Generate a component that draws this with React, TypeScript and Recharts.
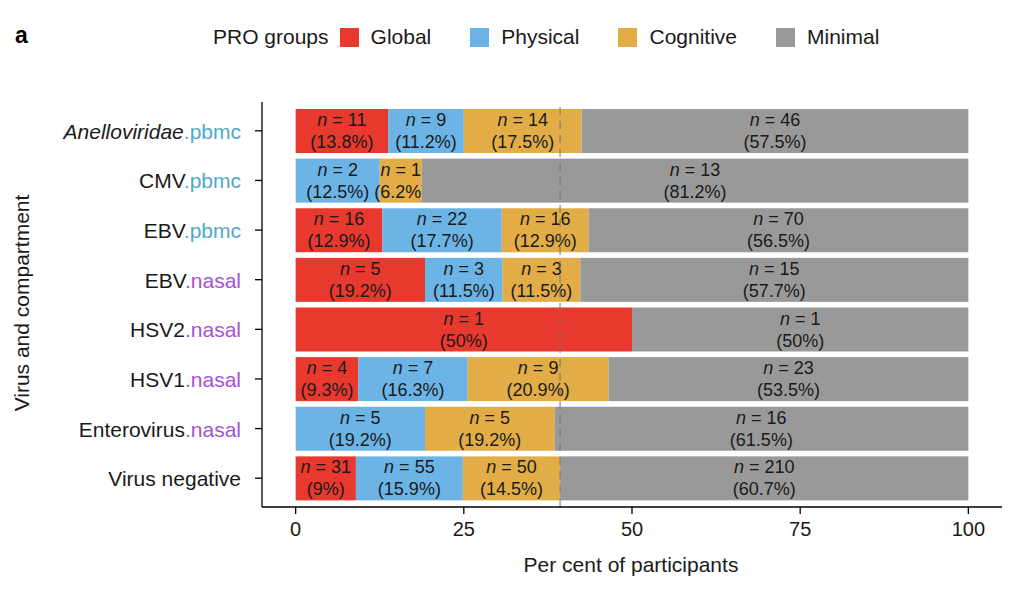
import { Bar, BarChart, ReferenceLine, XAxis, YAxis } from "recharts";

const categories = [
  "Anelloviridae.pbmc",
  "CMV.pbmc",
  "EBV.pbmc",
  "EBV.nasal",
  "HSV2.nasal",
  "HSV1.nasal",
  "Enterovirus.nasal",
  "Virus negative",
];

// participant counts per PRO group
const nGlobal = [11, 0, 16, 5, 1, 4, 0, 31];
const nPhysical = [9, 2, 22, 3, 0, 7, 5, 55];
const nCognitive = [14, 1, 16, 3, 0, 9, 5, 50];
const nMinimal = [46, 13, 70, 15, 1, 23, 16, 210];

// printed percentages
const pctGlobal = [13.8, 0, 12.9, 19.2, 50, 9.3, 0, 9];
const pctPhysical = [11.2, 12.5, 17.7, 11.5, 0, 16.3, 19.2, 15.9];
const pctCognitive = [17.5, 6.2, 12.9, 11.5, 0, 20.9, 19.2, 14.5];
const pctMinimal = [57.5, 81.2, 56.5, 57.7, 50, 53.5, 61.5, 60.7];

const xTicks = [0, 25, 50, 75, 100];

const groups = [
  { key: "global", label: "Global", color: "#e8392f", n: nGlobal, pct: pctGlobal },
  { key: "physical", label: "Physical", color: "#6cb4e6", n: nPhysical, pct: pctPhysical },
  { key: "cognitive", label: "Cognitive", color: "#e2ad47", n: nCognitive, pct: pctCognitive },
  { key: "minimal", label: "Minimal", color: "#999999", n: nMinimal, pct: pctMinimal },
];

const data = categories.map((name, i) => {
  const total = nGlobal[i] + nPhysical[i] + nCognitive[i] + nMinimal[i];
  const row: any = { name };
  groups.forEach((g) => {
    row[g.key] = (g.n[i] / total) * 100;
    row["n_" + g.key] = g.n[i];
    row["pct_" + g.key] = g.pct[i];
  });
  return row;
});

// share of virus-negative participants with any PRO
const neg = data[data.length - 1];
const negThreshold = 100 - neg.minimal;

const FONT = '"Liberation Sans", Arial, Helvetica, sans-serif';
const INK = "#1a1a1a";

function segment(key: string, color: string) {
  return (props: any) => {
    const { x, y, width, height, payload } = props;
    const n = payload["n_" + key];
    if (!n || !width) return <g />;
    const cx = x + width / 2;
    const cy = y + height / 2;
    return (
      <g>
        <rect x={x} y={y} width={width} height={height} fill={color} />
        <text x={cx} y={cy - 11} textAnchor="middle" dominantBaseline="central" fontSize={18} fill={INK} fontFamily={FONT}>
          <tspan fontStyle="italic">n</tspan> = {n}
        </text>
        <text x={cx} y={cy + 11} textAnchor="middle" dominantBaseline="central" fontSize={18} fill={INK} fontFamily={FONT}>
          ({payload["pct_" + key]}%)
        </text>
      </g>
    );
  };
}

function CategoryTick(props: any) {
  const { x, y, payload } = props;
  const value: string = payload.value;
  const dot = value.indexOf(".");
  const virus = dot >= 0 ? value.slice(0, dot) : value;
  const compartment = dot >= 0 ? value.slice(dot) : "";
  const compColor = compartment === ".pbmc" ? "#4eaacb" : "#a651d6";
  return (
    <text x={x - 2} y={y} textAnchor="end" dominantBaseline="central" fontSize={21} fontFamily={FONT} fill={INK}>
      <tspan fontStyle={virus === "Anelloviridae" ? "italic" : "normal"}>{virus}</tspan>
      {compartment && <tspan fill={compColor}>{compartment}</tspan>}
    </text>
  );
}

export default function App() {
  return (
    <div style={{ position: "absolute", left: 0, top: 0, width: 1024, height: 598, background: "#fff", fontFamily: FONT }}>
      <div style={{ position: "absolute", left: 15, top: 22, fontSize: 23, fontWeight: "bold", color: "#000" }}>a</div>
      <div
        style={{
          position: "absolute",
          left: 213,
          top: 24,
          height: 26,
          display: "flex",
          alignItems: "center",
          fontSize: 21,
          color: INK,
          whiteSpace: "nowrap",
        }}
      >
        <span style={{ marginRight: 11 }}>PRO groups</span>
        {groups.map((g) => (
          <span key={g.key} style={{ display: "flex", alignItems: "center", marginRight: 39 }}>
            <span style={{ width: 19, height: 19, background: g.color, marginRight: 12, display: "inline-block" }} />
            {g.label}
          </span>
        ))}
      </div>
      <BarChart
        width={1024}
        height={598}
        data={data}
        layout="vertical"
        margin={{ top: 102, right: 22, bottom: 51, left: 62 }}
        style={{ position: "absolute", left: 0, top: 0 }}
      >
        <XAxis
          type="number"
          domain={[-5, 105]}
          ticks={xTicks}
          allowDataOverflow
          height={40}
          tickSize={7}
          tickMargin={8}
          stroke="#000"
          strokeWidth={1.3}
          tick={{ fill: INK, fontSize: 20, fontFamily: FONT }}
        />
        <YAxis
          type="category"
          dataKey="name"
          width={200}
          padding={{ top: 4, bottom: 4 }}
          tickSize={7}
          tickMargin={12}
          stroke="#000"
          strokeWidth={1.3}
          tick={<CategoryTick />}
          interval={0}
        />
        {groups.map((g) => (
          <Bar
            key={g.key}
            dataKey={g.key}
            stackId="pro"
            fill={g.color}
            barSize={44}
            isAnimationActive={false}
            shape={segment(g.key, g.color)}
          />
        ))}
        <ReferenceLine x={negThreshold} stroke="#6f6f6f" strokeOpacity={0.8} strokeDasharray="8 6" strokeWidth={1.2} />
      </BarChart>
      <div style={{ position: "absolute", left: 0, width: 1262, top: 553, textAlign: "center", fontSize: 21, color: INK }}>
        Per cent of participants
      </div>
      <div
        style={{
          position: "absolute",
          left: 22,
          top: 303,
          fontSize: 21,
          color: INK,
          whiteSpace: "nowrap",
          transform: "translate(-50%, -50%) rotate(-90deg)",
        }}
      >
        Virus and compartment
      </div>
    </div>
  );
}
